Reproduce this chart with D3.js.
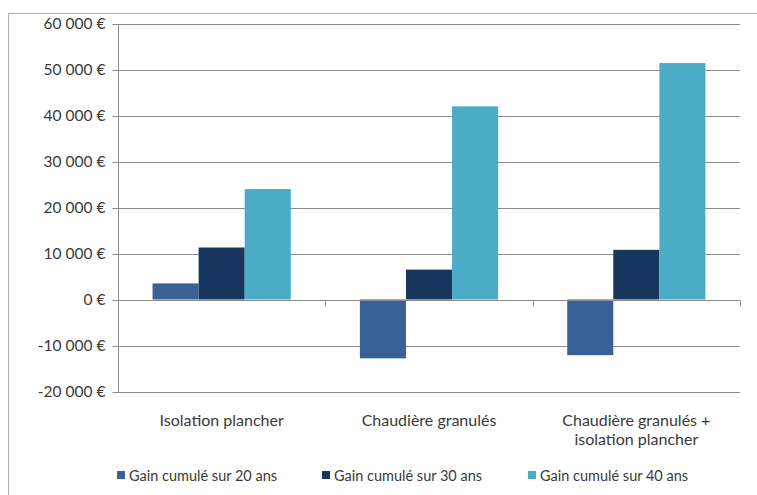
<!DOCTYPE html>
<html>
<head>
<meta charset="utf-8">
<script src="https://cdn.jsdelivr.net/npm/d3@7"></script>
<style>
  html, body { margin: 0; padding: 0; background: #fff; }
  svg { display: block; font-family: Lato, "Open Sans", sans-serif; }
</style>
</head>
<body>
<svg id="chart" width="757" height="495"></svg>
<script>
// Cumulative savings per renovation scenario
const categories = ["Isolation plancher", "Chaudière granulés", "Chaudière granulés + isolation plancher"];
const categoryLines = [["Isolation plancher"], ["Chaudière granulés"], ["Chaudière granulés +", "isolation plancher"]];
const series = ["Gain cumulé sur 20 ans", "Gain cumulé sur 30 ans", "Gain cumulé sur 40 ans"];
const gain20 = [3500, -12800, -12100];
const gain30 = [11300, 6500, 10800];
const gain40 = [24000, 42000, 51400];
const colors = ["#3a6196", "#17375e", "#4bacc6"];
const yTicks = [-20000, -10000, 0, 10000, 20000, 30000, 40000, 50000, 60000];

const values = [gain20, gain30, gain40];
const svg = d3.select("#chart");

// Outer chart frame
svg.append("rect")
  .attr("x", 8.5).attr("y", 13.5)
  .attr("width", 760).attr("height", 500)
  .attr("fill", "none").attr("stroke", "#b0b0b0").attr("stroke-width", 1);

const plotLeft = 118, plotRight = 740, plotTop = 23.5, plotBottom = 391.5;

const y = d3.scaleLinear().domain([-20000, 60000]).range([plotBottom, plotTop]);
const x0 = d3.scaleBand().domain(categories).range([plotLeft, plotRight]).padding(0);
const bw = x0.bandwidth();
const edge = bw * 0.75 / 4.5;
const x1 = d3.scaleBand().domain(series).range([edge, bw - edge]).padding(0);

const fmt = v => d3.format(",")(v).replace(/,/g, "\u00a0").replace("−", "-") + "\u00a0€";

// Horizontal gridlines
svg.append("g")
  .selectAll("line")
  .data(yTicks)
  .join("line")
  .attr("x1", plotLeft).attr("x2", plotRight)
  .attr("y1", d => Math.round(y(d)) + 0.5).attr("y2", d => Math.round(y(d)) + 0.5)
  .attr("stroke", "#8c8c8c").attr("stroke-width", 1);

// Value axis
const yAxis = d3.axisLeft(y).tickValues(yTicks).tickSize(6).tickPadding(7).tickFormat(fmt);
const gy = svg.append("g").attr("transform", `translate(${plotLeft + 0.5},0)`).call(yAxis);
gy.attr("font-size", 15.5).attr("font-family", "Lato, 'Open Sans', sans-serif");
gy.select(".domain").attr("stroke", "#8c8c8c").attr("d", `M0,${Math.round(plotTop)}V${Math.round(plotBottom)}`);
gy.selectAll(".tick").attr("transform", d => `translate(0,${Math.round(y(d)) + 0.5})`);
gy.selectAll(".tick line").attr("stroke", "#8c8c8c");
gy.selectAll(".tick text").attr("fill", "#3a3a3a");

// Bars
const groups = svg.append("g")
  .selectAll("g")
  .data(categories)
  .join("g")
  .attr("transform", d => `translate(${x0(d)},0)`);

groups.selectAll("rect")
  .data((d, i) => series.map((s, j) => ({ s, j, v: values[j][i] })))
  .join("rect")
  .attr("x", d => x1(d.s))
  .attr("width", x1.bandwidth())
  .attr("y", d => y(Math.max(0, d.v)))
  .attr("height", d => Math.abs(y(d.v) - y(0)))
  .attr("fill", d => colors[d.j]);

// Category axis on the zero line
const y0 = Math.round(y(0)) + 0.5;
svg.append("line")
  .attr("x1", plotLeft).attr("x2", plotRight).attr("y1", y0).attr("y2", y0)
  .attr("stroke", "#8c8c8c");
const boundaries = [plotLeft, ...categories.map(c => x0(c) + bw)];
svg.append("g").selectAll("line")
  .data(boundaries)
  .join("line")
  .attr("x1", d => Math.round(d) + 0.5).attr("x2", d => Math.round(d) + 0.5)
  .attr("y1", y0).attr("y2", y0 + 6)
  .attr("stroke", "#8c8c8c");

// Category labels below the plot
const labels = svg.append("g").attr("font-size", 16).attr("fill", "#3a3a3a").attr("text-anchor", "middle");
categories.forEach((c, i) => {
  const t = labels.append("text").attr("x", x0(c) + bw / 2).attr("y", 426);
  categoryLines[i].forEach((line, k) => {
    t.append("tspan").attr("x", x0(c) + bw / 2).attr("dy", k === 0 ? 0 : 19).text(line);
  });
});

// Legend
const legendX = [117, 322, 528];
const legend = svg.append("g");
series.forEach((s, i) => {
  legend.append("rect")
    .attr("x", legendX[i]).attr("y", 471)
    .attr("width", 8).attr("height", 8)
    .attr("fill", colors[i]);
  legend.append("text")
    .attr("x", legendX[i] + 12).attr("y", 480.5)
    .attr("font-size", 14.5).attr("fill", "#3a3a3a")
    .text(s);
});
</script>
</body>
</html>
